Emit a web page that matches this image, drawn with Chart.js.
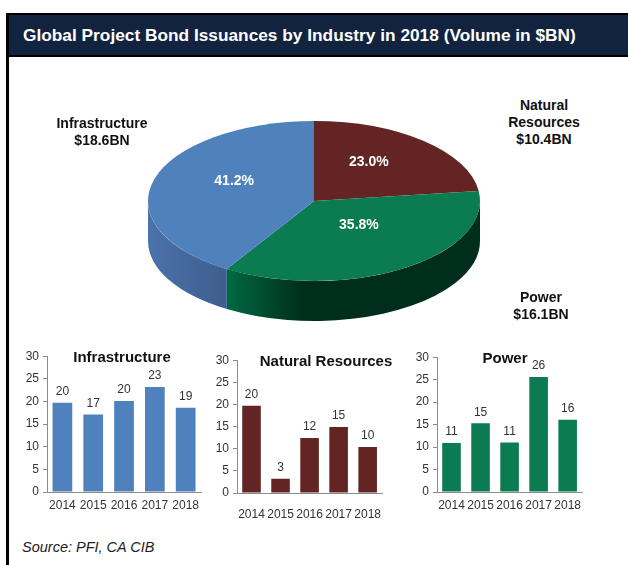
<!DOCTYPE html>
<html>
<head>
<meta charset="utf-8">
<script src="https://cdn.jsdelivr.net/npm/chart.js@4.4.1/dist/chart.umd.min.js"></script>
<style>
  body { margin:0; width:628px; height:565px; overflow:hidden; background:#fff; position:relative;
         font-family:"Liberation Sans", Arial, sans-serif; color:#111; }
  .abs { position:absolute; }
  #frameLeft { left:6px; top:13px; width:3px; height:552px; background:#000; }
  #header { left:6px; top:13px; width:622px; height:44px; box-sizing:border-box; background:#12233f;
            border-top:2px solid #000; border-bottom:2px solid #000; }
  #header span { position:absolute; left:17px; top:10px; color:#fff; font-weight:bold; font-size:17.3px; }
  .pieLbl { position:absolute; text-align:center; font-weight:bold; font-size:14px; line-height:17px; color:#111; }
  .panelTitle { position:absolute; font-weight:bold; font-size:15px; color:#111; white-space:nowrap;
                transform:translateX(-50%); }
  #source { left:22px; top:539px; font-style:italic; font-size:14.5px; color:#222; }
</style>
</head>
<body>
<div id="header" class="abs"><span>Global Project Bond Issuances by Industry in 2018 (Volume in $BN)</span></div>
<div id="frameLeft" class="abs"></div>

<canvas id="pie" class="abs" style="left:134px;top:100px;width:360px;height:240px"></canvas>
<div id="lbl_infra" class="pieLbl" style="left:42px;top:115px;width:120px"></div>
<div id="lbl_nat" class="pieLbl" style="left:499px;top:97px;width:90px"></div>
<div id="lbl_power" class="pieLbl" style="left:481px;top:289px;width:120px"></div>

<canvas id="bar1" class="abs" style="left:20px;top:345px;width:185px;height:168px"></canvas>
<canvas id="bar2" class="abs" style="left:210px;top:349px;width:185px;height:173px"></canvas>
<canvas id="bar3" class="abs" style="left:410px;top:346px;width:177px;height:167px"></canvas>
<div id="t1" class="panelTitle" style="left:122px;top:348px"></div>
<div id="t2" class="panelTitle" style="left:326px;top:352px"></div>
<div id="t3" class="panelTitle" style="left:505px;top:349px"></div>

<div id="source" class="abs">Source: PFI, CA CIB</div>

<script>
// pie order: clockwise from 12 o'clock
const industries = ['Natural Resources', 'Power', 'Infrastructure'];
const shares     = [23.0, 35.8, 41.2];      // % of 2018 volume
const volumes    = [10.4, 16.1, 18.6];      // $BN
const years      = ['2014', '2015', '2016', '2017', '2018'];
const infraVals  = [19.7, 17.1, 20.1, 23.2, 18.6];
const natresVals = [19.7, 3.2, 12.4, 14.9, 10.4];
const powerVals  = [10.9, 15.3, 11.0, 25.6, 16.1];

const FONT = '"Liberation Sans", Arial, sans-serif';
const COLORS = { 'Natural Resources': '#632523', 'Power': '#0b7b52', 'Infrastructure': '#4f81bd' };
const SIDE   = { 'Natural Resources': ['#4a1b1a', '#3a1514'], 'Power': ['#006a44', '#002e1d'], 'Infrastructure': ['#4b72a9', '#3d5e8e'] };

// ---- 3D-ish pie: squash the chart vertically and draw an extruded rim ----
const SQUASH = 80 / 166;
const DEPTH  = 40;
const PIE_CY = 101;   // on-canvas y of the squashed centre

const pie3d = {
  id: 'pie3d',
  beforeDatasetsDraw(chart) {
    const ctx = chart.ctx;
    const meta = chart.getDatasetMeta(0);
    meta.data.forEach((arc, i) => {
      const { x, startAngle, endAngle, outerRadius } = arc.getProps(['x', 'startAngle', 'endAngle', 'outerRadius']);
      const rx = outerRadius, ry = outerRadius * SQUASH;
      const name = industries[i];
      for (let k = -1; k <= 1; k++) {
        const a = Math.max(startAngle, k * 2 * Math.PI);
        const b = Math.min(endAngle, k * 2 * Math.PI + Math.PI);
        if (b <= a) continue;
        const x0 = x + rx * Math.cos(b), x1 = x + rx * Math.cos(a);
        const g = ctx.createLinearGradient(x0, 0, x1, 0);
        g.addColorStop(0, SIDE[name][0]);
        g.addColorStop(name === 'Power' ? 0.3 : 1, SIDE[name][1]);
        g.addColorStop(1, SIDE[name][1]);
        ctx.beginPath();
        ctx.ellipse(x, PIE_CY, rx, ry, 0, a, b);
        ctx.ellipse(x, PIE_CY + DEPTH, rx, ry, 0, b, a, true);
        ctx.closePath();
        ctx.fillStyle = g;
        ctx.fill();
      }
    });
    const cy = (chart.chartArea.top + chart.chartArea.bottom) / 2;
    ctx.save();
    ctx.translate(0, PIE_CY);
    ctx.scale(1, SQUASH);
    ctx.translate(0, -cy);
  },
  afterDatasetsDraw(chart) {
    const ctx = chart.ctx;
    ctx.restore();
    const cy = (chart.chartArea.top + chart.chartArea.bottom) / 2;
    ctx.save();
    ctx.font = 'bold 14px ' + FONT;
    ctx.fillStyle = '#fff';
    ctx.textAlign = 'center';
    ctx.textBaseline = 'middle';
    chart.getDatasetMeta(0).data.forEach((arc, i) => {
      const p = arc.tooltipPosition();
      // nudge up a little: the original pie has perspective, so its hub sits above the ellipse centre
      ctx.fillText(shares[i].toFixed(1) + '%', p.x, PIE_CY + (p.y - cy) * SQUASH - 9);
    });
    ctx.restore();
  }
};

new Chart(document.getElementById('pie'), {
  type: 'pie',
  data: {
    labels: industries,
    datasets: [{
      data: shares,
      backgroundColor: industries.map(n => COLORS[n]),
      borderWidth: 0,
      radius: 166,
      clip: false,
    }],
  },
  options: {
    responsive: false, animation: false,
    layout: { padding: 0 },
    plugins: { legend: { display: false }, tooltip: { enabled: false } },
  },
  plugins: [pie3d],
});

document.getElementById('lbl_infra').innerHTML = `Infrastructure<br>$${volumes[2].toFixed(1)}BN`;
document.getElementById('lbl_nat').innerHTML   = `Natural Resources<br>$${volumes[0].toFixed(1)}BN`;
document.getElementById('lbl_power').innerHTML = `Power<br>$${volumes[1].toFixed(1)}BN`;

// ---- small bar panels ----
const barLabels = {
  id: 'barLabels',
  afterDatasetsDraw(chart) {
    const ctx = chart.ctx;
    ctx.save();
    ctx.font = '12px ' + FONT;
    ctx.fillStyle = '#333';
    ctx.textAlign = 'center';
    ctx.textBaseline = 'bottom';
    const vals = chart.data.datasets[0].data;
    chart.getDatasetMeta(0).data.forEach((bar, i) => {
      ctx.fillText(Math.round(vals[i]), bar.x, bar.y - 5);
    });
    ctx.restore();
  }
};

function makePanel(id, titleId, name, values, tickPad) {
  document.getElementById(titleId).textContent = name;
  return new Chart(document.getElementById(id), {
    type: 'bar',
    data: {
      labels: years,
      datasets: [{ data: values, backgroundColor: COLORS[name], barPercentage: 0.64, categoryPercentage: 1 }],
    },
    options: {
      responsive: false, animation: false,
      layout: { padding: { top: 11, right: 0, left: 0, bottom: 0 } },
      plugins: { legend: { display: false }, tooltip: { enabled: false } },
      scales: {
        x: {
          grid: { drawOnChartArea: false, drawTicks: false },
          border: { color: '#8c8c8c' },
          ticks: { color: '#333', font: { family: FONT, size: 12 }, padding: tickPad, maxRotation: 0 },
          afterFit: s => { s.height = tickPad + 15; },
        },
        y: {
          min: 0, max: 30,
          grid: { drawOnChartArea: false, tickLength: 4, color: '#8c8c8c' },
          border: { color: '#8c8c8c' },
          ticks: {
            stepSize: 2.5, color: '#333', padding: 4, font: { family: FONT, size: 12 },
            callback: v => (v % 5 === 0 ? v : ''),
          },
          afterFit: s => { s.width = 27; },
        },
      },
    },
    plugins: [barLabels],
  });
}

makePanel('bar1', 't1', 'Infrastructure', infraVals, 6);
makePanel('bar2', 't2', 'Natural Resources', natresVals, 14);
makePanel('bar3', 't3', 'Power', powerVals, 6);
</script>
</body>
</html>
